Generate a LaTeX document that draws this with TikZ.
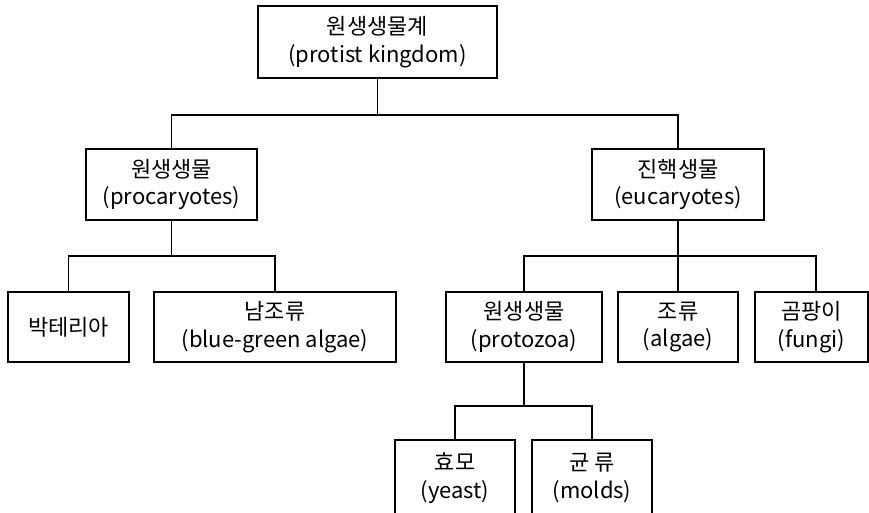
\documentclass[tikz,border=0pt]{standalone}
\usepackage{fontspec}
\setmainfont{Noto Sans CJK KR}
\begin{document}
\begin{tikzpicture}[x=0.75pt,y=-0.75pt,
  box/.style={draw,line width=0.9pt,inner sep=0pt,align=center,
    font=\fontsize{16.5}{20.5}\selectfont},
  conn/.style={line width=0.9pt}]
\clip (0,0) rectangle (869,513);
\fill[white] (0,0) rectangle (869,513);
\node[box,minimum width=239*0.75pt,minimum height=72*0.75pt] (top) at (377.5,42) {원생생물계\\(protist kingdom)};
\node[box,minimum width=171*0.75pt,minimum height=71*0.75pt] (pro) at (171.5,184.5) {원생생물\\(procaryotes)};
\node[box,minimum width=172*0.75pt,minimum height=71*0.75pt] (euc) at (678,184.5) {진핵생물\\(eucaryotes)};
\node[box,minimum width=121*0.75pt,minimum height=70*0.75pt] (bac) at (68.5,327) {박테리아};
\node[box,minimum width=242*0.75pt,minimum height=70*0.75pt] (bg) at (275,327) {남조류\\(blue-green algae)};
\node[box,minimum width=156*0.75pt,minimum height=70*0.75pt] (prz) at (524,327) {원생생물\\(protozoa)};
\node[box,minimum width=120*0.75pt,minimum height=70*0.75pt] (alg) at (678,327) {조류\\(algae)};
\node[box,minimum width=113*0.75pt,minimum height=70*0.75pt] (fun) at (811.5,327) {곰팡이\\(fungi)};
\node[box,minimum width=120*0.75pt,minimum height=76*0.75pt] (yst) at (455,478) {효모\\(yeast)};
\node[box,minimum width=120*0.75pt,minimum height=76*0.75pt] (mld) at (592,478) {균 류\\(molds)};
\coordinate (j1) at (377.5,115);
\coordinate (j2) at (171.5,256);
\coordinate (j3) at (678,256);
\coordinate (j4) at (524,406);
\draw[conn] (top.south) -- (j1);
\draw[conn] (pro.north) |- (j1) -| (euc.north);
\draw[conn] (pro.south) -- (j2);
\draw[conn] (bac.north) |- (j2) -| (bg.north);
\draw[conn] (euc.south) -- (alg.north);
\draw[conn] (prz.north) |- (j3) -| ([xshift=4.5*0.75pt]fun.north);
\draw[conn] (prz.south) -- (j4);
\draw[conn] (yst.north) |- (j4) -| (mld.north);
\end{tikzpicture}
\end{document}
